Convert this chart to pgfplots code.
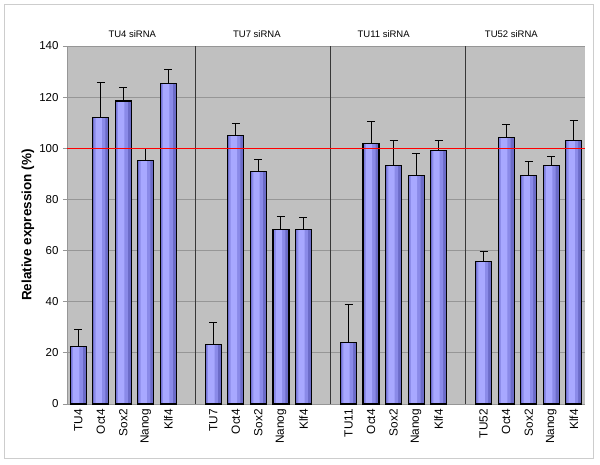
\documentclass[border=0pt]{standalone}
\usepackage{pgfplots}
\pgfplotsset{compat=1.18}
\usepackage{pgfplotstable}
\usepackage{fontspec}
\setmainfont{Liberation Sans}
\definecolor{bgsilver}{RGB}{192,192,192}
\definecolor{gridgray}{RGB}{150,150,150}
\definecolor{barA}{RGB}{108,108,200}
\definecolor{barB}{RGB}{138,138,232}
\definecolor{barC}{RGB}{168,168,255}
\definecolor{sepgray}{RGB}{55,55,55}
\definecolor{framegray}{RGB}{205,205,205}
\pgfplotstableread{
x y err
0 22.4 6.7
1 112.0 13.7
2 118.5 5.4
3 95.3 4.5
4 125.4 5.3
6 23.2 8.7
7 104.9 4.9
8 90.9 4.9
9 68.3 5.2
10 68.3 4.5
12 24.1 14.9
13 101.9 8.4
14 93.3 9.6
15 89.3 8.6
16 99.1 4.1
18 55.8 3.8
19 104.2 5.2
20 89.3 5.6
21 93.3 3.4
22 103.2 7.6
}\datatable
\begin{document}
\begin{tikzpicture}[x=1pt,y=1pt]
\path (-67,-60) rectangle (533,404);
\draw[framegray, line width=1pt] (-62,-54) rectangle (526,399);
\begin{axis}[
  at={(0,0)}, anchor=south west,
  scale only axis, width=518pt, height=358pt,
  xmin=-0.5, xmax=22.5, ymin=0, ymax=140,
  clip=false,
  axis background/.style={fill=bgsilver},
  axis x line*=bottom, axis y line*=left,
  axis line style={gridgray, line width=0.8pt},
  ytick={0,20,...,140},
  ymajorgrids, grid style={gridgray, line width=0.8pt},
  tick align=outside,
  ytick style={gridgray, line width=0.8pt},
  major tick length=4pt,
  xtick={0,1,2,3,4,6,7,8,9,10,12,13,14,15,16,18,19,20,21,22},
  xticklabels={TU4,Oct4,Sox2,Nanog,Klf4,TU7,Oct4,Sox2,Nanog,Klf4,TU11,Oct4,Sox2,Nanog,Klf4,TU52,Oct4,Sox2,Nanog,Klf4},
  xtick style={draw=none},
  minor xtick={-0.5,0.5,...,22.5},
  minor x tick style={gridgray, line width=0.8pt},
  minor tick length=4pt,
  xticklabel style={rotate=90, anchor=east, font=\fontsize{11.8}{13}\selectfont, inner sep=1pt},
  yticklabel style={font=\fontsize{11.5}{13}\selectfont, /pgf/number format/assume math mode=true, xshift=-1pt},
  ylabel={\bfseries Relative expression (\%)},
  ylabel style={font=\fontsize{13.5}{15}\selectfont, at={(axis description cs:-0.0753,0.5)}, anchor=center},
]
\addplot[ybar, bar width=0.71, draw=none, fill=barA] table[x=x, y=y] {\datatable};
\addplot[ybar, bar width=0.50, bar shift=-0.05, draw=none, fill=barB] table[x=x, y=y] {\datatable};
\addplot[ybar, bar width=0.28, bar shift=-0.09, draw=none, fill=barC] table[x=x, y=y] {\datatable};
\addplot[ybar, bar width=0.71, draw=black, fill=none, line width=1.1pt,
  error bars/.cd, y dir=plus, y explicit,
  error bar style={black, line width=1pt},
  error mark options={rotate=90, mark size=4pt, black, line width=1pt}]
  table[x=x, y=y, y error=err] {\datatable};
\addplot[sepgray, line width=1.3pt] coordinates {(5.2,0) (5.2,140)};
\addplot[sepgray, line width=1.3pt] coordinates {(11.2,0) (11.2,140)};
\addplot[sepgray, line width=1.3pt] coordinates {(17.2,0) (17.2,140)};
\addplot[red, line width=1.2pt] coordinates {(-0.5,100) (22.5,100)};
\node[anchor=base, font=\fontsize{9.5}{11}\selectfont] at ([yshift=8.5pt]axis cs:2.4,140) {TU4 siRNA};
\node[anchor=base, font=\fontsize{9.5}{11}\selectfont] at ([yshift=8.5pt]axis cs:7.93,140) {TU7 siRNA};
\node[anchor=base, font=\fontsize{9.5}{11}\selectfont] at ([yshift=8.5pt]axis cs:13.56,140) {TU11 siRNA};
\node[anchor=base, font=\fontsize{9.5}{11}\selectfont] at ([yshift=8.5pt]axis cs:19.23,140) {TU52 siRNA};
\end{axis}
\end{tikzpicture}
\end{document}
